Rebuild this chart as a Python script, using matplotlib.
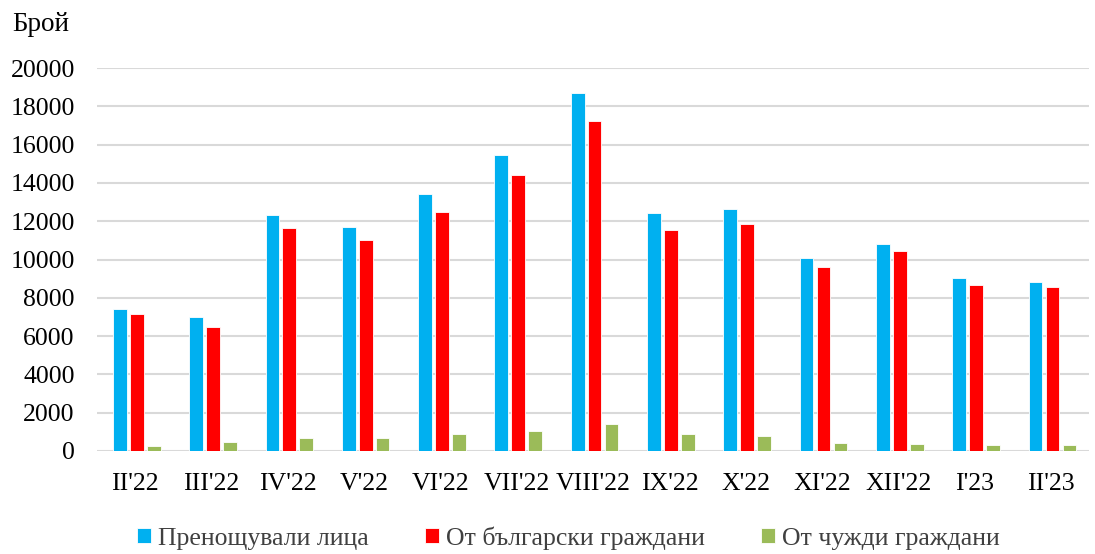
import numpy as np
import matplotlib.pyplot as plt

plt.rcParams['font.family'] = ['Liberation Serif', 'DejaVu Serif']

months = ["II'22", "III'22", "IV'22", "V'22", "VI'22", "VII'22", "VIII'22",
          "IX'22", "X'22", "XI'22", "XII'22", "I'23", "II'23"]
total = [7400, 7000, 12320, 11680, 13400, 15450, 18680, 12410, 12620, 10090, 10820, 9040, 8850]
bulgarian = [7150, 6480, 11640, 11010, 12480, 14400, 17260, 11550, 11850, 9630, 10470, 8690, 8550]
foreign = [250, 470, 670, 680, 910, 1050, 1410, 860, 770, 420, 350, 315, 300]

labels = ['Пренощували лица', 'От български граждани', 'От чужди граждани']
colors = ['#00b0f0', '#ff0000', '#9bbb59']

fig = plt.figure(figsize=(10.95, 5.54), dpi=100)
ax = fig.add_axes([0.0886, 0.186, 0.906, 0.691])

x = np.arange(len(months))
w = 0.18
step = 0.222
for i, (vals, c, lab) in enumerate(zip([total, bulgarian, foreign], colors, labels)):
    ax.bar(x + (i - 1) * step + 0.02, vals, width=w, color=c, label=lab,
           edgecolor='white', linewidth=0.6, zorder=3)

ax.set_xlim(-0.5, len(months) - 0.5)
ax.set_ylim(0, 20000)
ax.set_yticks(np.arange(0, 20001, 2000))
ax.set_xticks(x)
ax.set_xticklabels(months)
ax.tick_params(axis='both', length=0, labelsize=18.5, colors='black')
ax.tick_params(axis='x', pad=16)
ax.tick_params(axis='y', pad=16)
ax.grid(axis='y', color='#d9d9d9', linewidth=1.5, zorder=0)
for s in ax.spines.values():
    s.set_visible(False)

fig.text(0.011, 0.955, 'Брой', fontsize=19.5, ha='left', va='center')

leg = fig.legend(loc='center', bbox_to_anchor=(0.519, 0.029), ncol=3, frameon=False,
                 fontsize=18.5, handlelength=0.55, handleheight=0.55, handletextpad=0.25,
                 columnspacing=2.2)
for t in leg.get_texts():
    t.set_color('#404040')

fig.savefig('out.png', dpi=100)
